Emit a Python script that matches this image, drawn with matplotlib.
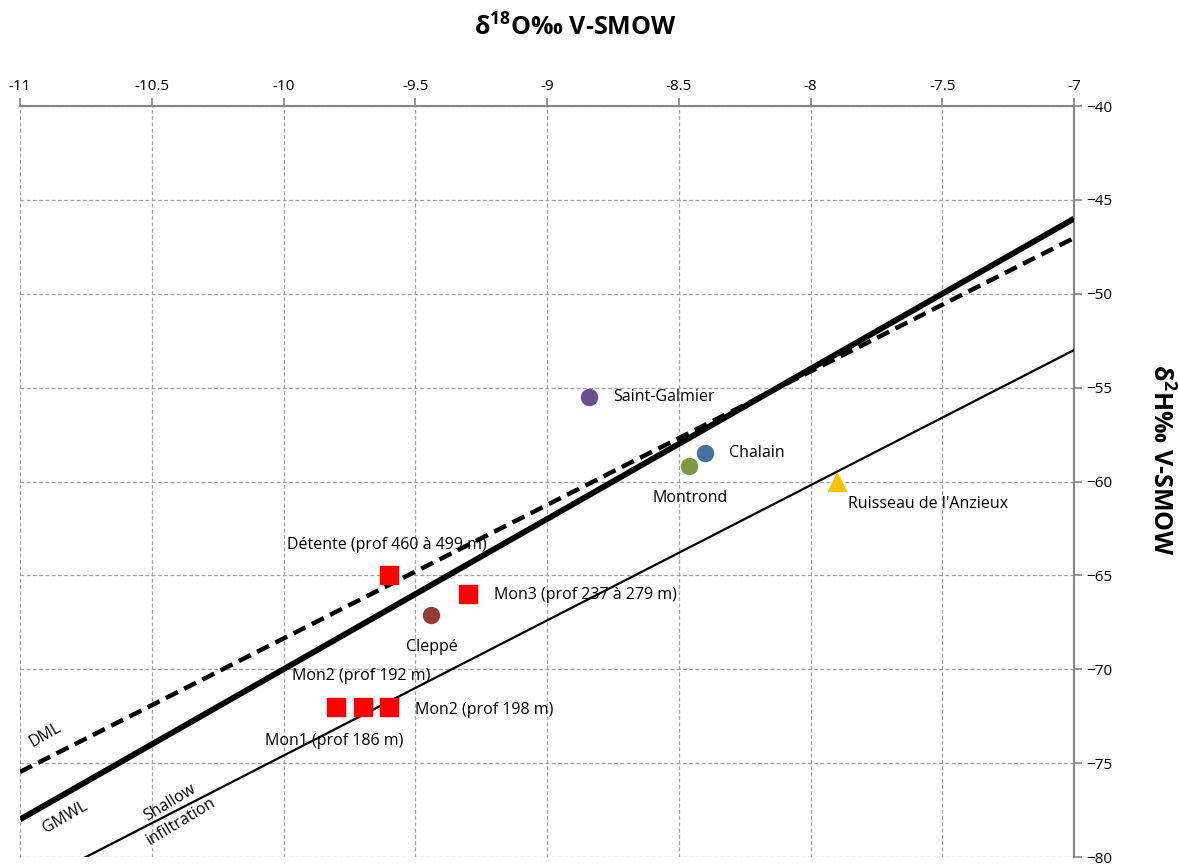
import numpy as np
import matplotlib
matplotlib.use("Agg")
import matplotlib.pyplot as plt

plt.rcParams['font.family'] = ['Open Sans', 'DejaVu Sans']
plt.rcParams['mathtext.fontset'] = 'custom'
plt.rcParams['mathtext.bf'] = 'Open Sans:bold'
plt.rcParams['mathtext.rm'] = 'Open Sans:bold'
plt.rcParams['mathtext.default'] = 'bf'

# sample points (d18O, d2H)
names = ['Saint-Galmier', 'Chalain', 'Montrond', 'Cleppé', "Ruisseau de l'Anzieux"]
d18o = [-8.84, -8.40, -8.46, -9.44, -7.90]
d2h = [-55.5, -58.5, -59.2, -67.1, -60.0]
colors = ['#6B4F8C', '#4470A2', '#7C9A42', '#963C36', '#FFC000']
markers = ['o', 'o', 'o', 'o', '^']

# boreholes (red squares)
bore_names = ['Détente (prof 460 à 499 m)', 'Mon3 (prof 237 à 279 m)',
              'Mon1 (prof 186 m)', 'Mon2 (prof 192 m)', 'Mon2 (prof 198 m)']
bore_d18o = [-9.60, -9.30, -9.80, -9.70, -9.60]
bore_d2h = [-65.0, -66.0, -72.0, -72.0, -72.0]

# reference lines: slope, intercept
gmwl = (8.0, 10.0)
dml = (7.11, 2.74)
shallow = (7.2, -2.6)
x_line = np.array([-11.0, -7.0])

fig = plt.figure(figsize=(11.79, 8.64), dpi=100)
ax = fig.add_axes([20/1179, 7/864, 1054/1179, 751/864])

ax.plot(x_line, gmwl[0]*x_line + gmwl[1], color='black', lw=4.2, solid_capstyle='butt', zorder=3)
ax.plot(x_line, dml[0]*x_line + dml[1], color='black', lw=3.2, ls=(0, (3, 1.6)), zorder=3)
ax.plot(x_line, shallow[0]*x_line + shallow[1], color='black', lw=1.6, zorder=3)

for x, y, c, m in zip(d18o, d2h, colors, markers):
    ax.plot(x, y, marker=m, ms=11.5 if m == 'o' else 13, color=c, ls='none', zorder=4, clip_on=False)
ax.plot(bore_d18o, bore_d2h, marker='s', ms=13.5, color='#FF0000', ls='none', zorder=4)

fs = 11.5
ax.text(-8.75, -55.5, 'Saint-Galmier', fontsize=fs, va='center', ha='left')
ax.text(-8.31, -58.5, 'Chalain', fontsize=fs, va='center', ha='left')
ax.text(-8.457, -60.87, 'Montrond', fontsize=fs, va='center', ha='center')
ax.text(-7.858, -61.19, "Ruisseau de l'Anzieux", fontsize=fs, va='center', ha='left')
ax.text(-9.987, -63.38, bore_names[0], fontsize=fs, va='center', ha='left')
ax.text(-9.20, -66.04, bore_names[1], fontsize=fs, va='center', ha='left')
ax.text(-9.437, -68.81, 'Cleppé', fontsize=fs, va='center', ha='center')
ax.text(-9.968, -70.35, bore_names[3], fontsize=fs, va='center', ha='left')
ax.text(-9.50, -72.16, bore_names[4], fontsize=fs, va='center', ha='left')
ax.text(-10.07, -73.81, bore_names[2], fontsize=fs, va='center', ha='left')

ax.text(-10.905, -73.5, 'DML', fontsize=fs, rotation=30, va='center', ha='center', rotation_mode='anchor')
ax.text(-10.83, -77.9, 'GMWL', fontsize=fs, rotation=30, va='center', ha='center', rotation_mode='anchor')
ax.text(-10.41, -77.6, 'Shallow\ninfiltration', fontsize=fs, rotation=31, va='center', ha='center',
        rotation_mode='anchor', linespacing=1.45)

ax.set_xlim(-11, -7)
ax.set_ylim(-80, -40)
ax.set_xticks(np.arange(-11, -6.9, 0.5))
ax.set_xticklabels(['-11', '-10.5', '-10', '-9.5', '-9', '-8.5', '-8', '-7.5', '-7'])
ax.set_yticks(np.arange(-80, -39, 5))
ax.xaxis.tick_top()
ax.yaxis.tick_right()
ax.tick_params(axis='both', direction='out', length=6, width=1.2, color='#868686',
               labelsize=11, pad=3)

ax.grid(True, color='#A0A0A0', lw=0.9, ls=(0, (3, 2)))
ax.set_axisbelow(True)
for side in ['left', 'bottom']:
    ax.spines[side].set_visible(False)
for side in ['top', 'right']:
    ax.spines[side].set_color('#868686')
    ax.spines[side].set_linewidth(1.5)

fig.text(575/1179, 1 - 28/864, r'δ$^{18}$O‰ V-SMOW', fontsize=18, fontweight='bold', ha='center', va='center')
fig.text(1160/1179, 1 - 460/864, r'δ$^{2}$H‰ V-SMOW', fontsize=18, fontweight='bold', ha='center',
         va='center', rotation=-90)

fig.savefig('out.png', dpi=100)
